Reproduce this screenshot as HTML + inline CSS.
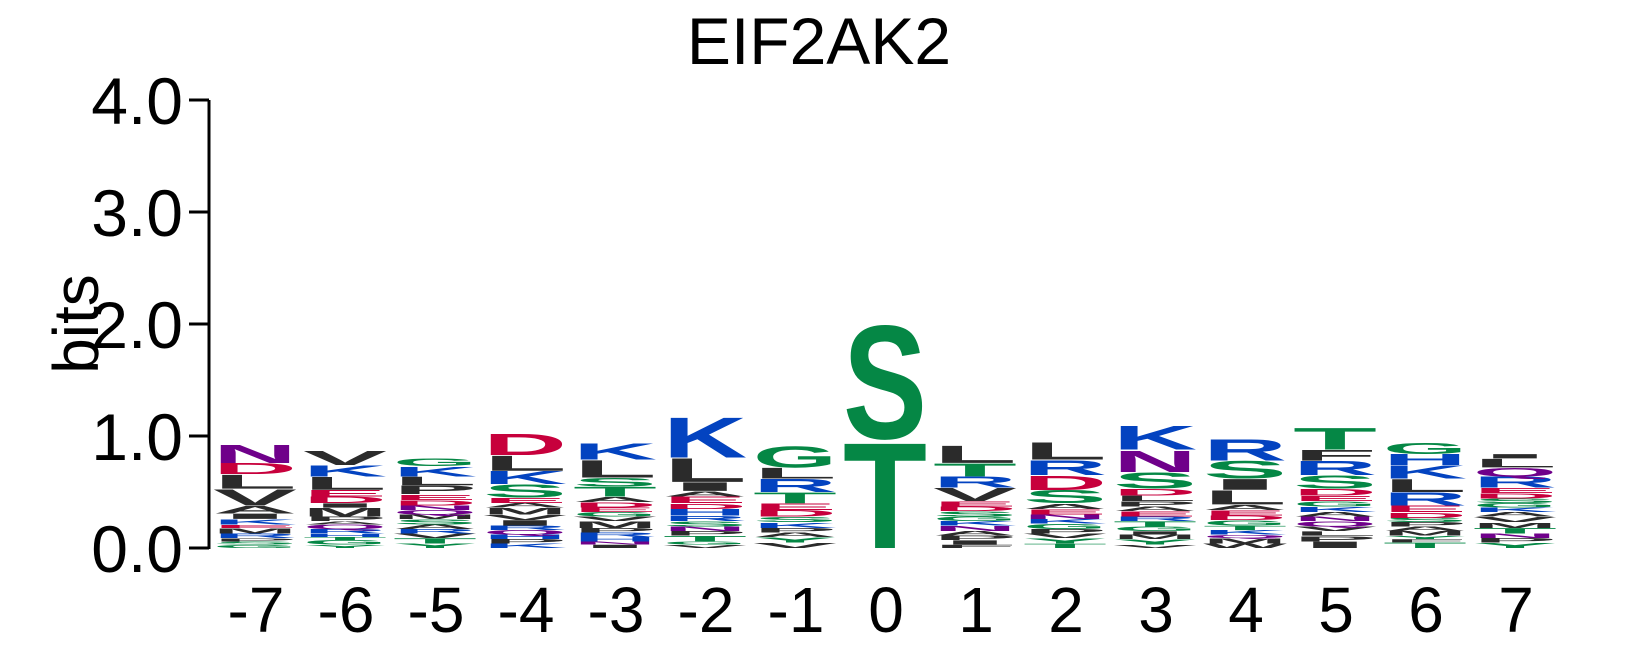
<!DOCTYPE html>
<html><head><meta charset="utf-8"><style>
html,body{margin:0;padding:0;background:#fff;}
svg{display:block;font-family:"Liberation Sans",Arial,sans-serif;}
</style></head><body>
<svg id="chart" width="1639" height="661" viewBox="0 0 1639 661" xmlns="http://www.w3.org/2000/svg">
<text x="819" y="64" font-size="66" text-anchor="middle">EIF2AK2</text>
<text transform="translate(98,324) rotate(-90)" font-size="64" text-anchor="middle">bits</text>
<g id="axis"></g>
<g id="logo"></g>
<g id="xlab"></g>
</svg>
<script>
const positions = ["-7","-6","-5","-4","-3","-2","-1","0","1","2","3","4","5","6","7"];
const yTicks = [0,1,2,3,4];
const yTickLabels = ["0.0","1.0","2.0","3.0","4.0"];
// letters per column top-to-bottom with heights in bits
const col_m7 = [["N",.17],["D",.10],["L",.13],["V",.15],["A",.07],["I",.05],["K",.05],["E",.03],["M",.05],["R",.04],["P",.03],["S",.03],["G",.03]];
const col_m6 = [["V",.13],["K",.10],["L",.12],["E",.06],["D",.06],["I",.04],["M",.08],["P",.04],["A",.03],["Q",.04],["R",.04],["H",.03],["T",.03],["G",.04],["Y",.03]];
const col_m5 = [["G",.07],["K",.09],["L",.08],["P",.08],["E",.05],["D",.05],["N",.04],["Q",.04],["M",.04],["S",.05],["A",.04],["R",.04],["V",.04],["T",.05],["Y",.04]];
const col_m4 = [["D",.20],["L",.14],["K",.12],["S",.12],["E",.05],["A",.04],["M",.06],["V",.05],["I",.05],["R",.04],["Q",.04],["H",.04],["P",.04],["K",.04]];
const col_m3 = [["K",.15],["L",.16],["S",.08],["T",.09],["A",.05],["D",.05],["E",.04],["G",.04],["V",.04],["M",.06],["P",.04],["R",.04],["H",.04],["N",.03],["I",.03]];
const col_m2 = [["K",.37],["L",.22],["I",.08],["A",.05],["E",.06],["D",.05],["H",.06],["R",.05],["S",.05],["N",.04],["P",.04],["T",.05],["G",.03],["V",.03]];
const col_m1 = [["G",.20],["L",.10],["R",.12],["T",.10],["E",.06],["D",.06],["S",.05],["K",.05],["P",.04],["A",.04],["Y",.05],["V",.05]];
const col_0 = [["S",1.05],["T",.98]];
const col_1 = [["L",.16],["T",.12],["R",.10],["V",.12],["E",.05],["D",.04],["S",.05],["G",.04],["K",.04],["N",.05],["A",.04],["P",.04],["I",.04],["F",.03]];
const col_2 = [["L",.16],["R",.14],["D",.13],["S",.12],["A",.05],["E",.05],["N",.04],["K",.04],["G",.05],["P",.04],["V",.04],["Y",.05],["T",.04]];
const col_3 = [["K",.22],["N",.20],["S",.15],["D",.06],["L",.05],["P",.05],["A",.04],["E",.05],["R",.04],["T",.05],["G",.04],["I",.03],["M",.04],["Y",.05],["V",.03]];
const col_4 = [["R",.20],["S",.16],["I",.10],["L",.13],["A",.05],["E",.05],["D",.04],["G",.05],["T",.04],["K",.04],["Q",.03],["M",.05],["W",.04]];
const col_5 = [["T",.20],["F",.10],["R",.13],["S",.12],["D",.06],["E",.05],["G",.05],["K",.05],["A",.04],["N",.04],["Q",.05],["V",.04],["L",.04],["P",.05],["I",.06]];
const col_6 = [["G",.10],["H",.10],["K",.12],["L",.12],["R",.12],["E",.06],["D",.05],["S",.04],["P",.04],["A",.04],["M",.04],["Y",.03],["F",.03],["T",.05]];
const col_7 = [["I",.04],["L",.08],["Q",.08],["R",.10],["E",.05],["D",.05],["S",.04],["G",.04],["K",.04],["A",.04],["V",.05],["M",.05],["T",.05],["N",.04],["P",.04],["Y",.05]];
const columns = [col_m7,col_m6,col_m5,col_m4,col_m3,col_m2,col_m1,col_0,col_1,col_2,col_3,col_4,col_5,col_6,col_7];

const NS="http://www.w3.org/2000/svg";
const X0=256, DX=90, CW=86, Y0=548, BIT=112, AX=209;
const yPx = v => Y0 - v*BIT;
const xPx = i => X0 + i*DX;
function colorOf(l){
  if("STYGC".includes(l)) return "#058745";
  if("KRH".includes(l)) return "#0343c0";
  if("DE".includes(l)) return "#c7003c";
  if("NQ".includes(l)) return "#6f008a";
  return "#2b2b2b";
}
const axis=document.getElementById('axis');
const ln=document.createElementNS(NS,'line');


ln.setAttribute('x1',AX);ln.setAttribute('x2',AX);
ln.setAttribute('y1',yPx(yTicks[yTicks.length-1]));ln.setAttribute('y2',yPx(0)+1);
ln.setAttribute('stroke','#000');ln.setAttribute('stroke-width','3');
axis.appendChild(ln);
yTicks.forEach((t,i)=>{
  const tk=document.createElementNS(NS,'line');
  
  
  tk.setAttribute('x1',AX-20);tk.setAttribute('x2',AX);
  tk.setAttribute('y1',yPx(t));tk.setAttribute('y2',yPx(t));
  tk.setAttribute('stroke','#000');tk.setAttribute('stroke-width','3');
  axis.appendChild(tk);
  const tx=document.createElementNS(NS,'text');
  
  
  tx.setAttribute('x',AX-26);tx.setAttribute('y',yPx(t)+24);
  tx.setAttribute('font-size','66');tx.setAttribute('text-anchor','end');
  tx.textContent=yTickLabels[i];
  axis.appendChild(tx);
});
const logo=document.getElementById('logo');
columns.forEach((col,i)=>{
  let base=0;
  const x=xPx(i)-CW/2;
  for(let k=col.length-1;k>=0;k--){
    const [l,h]=col[k];
    const t=document.createElementNS(NS,'text');
    
    
    const sy=(h*BIT)/72.5;
    t.setAttribute('transform',`translate(${x},${yPx(base)}) scale(1,${sy})`);
    t.setAttribute('x','0');t.setAttribute('y','0');
    t.setAttribute('font-size','100');t.setAttribute('font-weight','bold');
    t.setAttribute('textLength',CW-2);t.setAttribute('lengthAdjust','spacingAndGlyphs');
    t.setAttribute('fill',colorOf(l));
    t.textContent=l;
    logo.appendChild(t);
    base+=h;
  }
});
const xl=document.getElementById('xlab');
positions.forEach((p,i)=>{
  const t=document.createElementNS(NS,'text');
  
  
  t.setAttribute('x',xPx(i));t.setAttribute('y',632);
  t.setAttribute('font-size','64');t.setAttribute('text-anchor','middle');
  t.textContent=p;
  xl.appendChild(t);
});
</script>
</body></html>
